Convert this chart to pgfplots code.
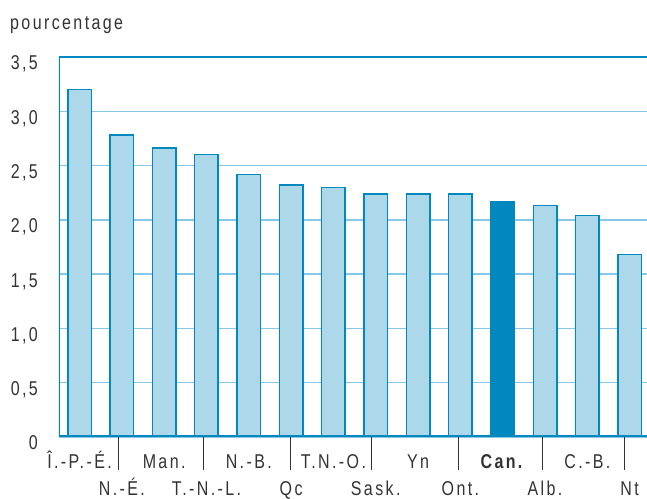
\documentclass[border=0pt]{standalone}
\usepackage{pgfplots}
\pgfplotsset{compat=1.18}
\usepackage{fontspec}
\setmainfont{Liberation Sans}[FakeStretch=0.8, LetterSpace=12]
\definecolor{barblue}{HTML}{0088BF}
\definecolor{barfill}{HTML}{ADD8EA}
\definecolor{gridblue}{HTML}{86C8E5}
\definecolor{txt}{HTML}{333333}

\begin{document}
\begin{tikzpicture}
\begin{axis}[
  scale only axis, width=588pt, height=380pt,
  xmin=-0.485, xmax=13.41, ymin=0, ymax=3.5,
  axis line style={draw=none},
  tick pos=left,
  major tick length=0pt,
  ytick={0,0.5,1,1.5,2,2.5,3,3.5},
  yticklabels={0,{0,5},{1,0},{1,5},{2,0},{2,5},{3,0},{3,5}},
  ymajorgrids, grid style={gridblue, line width=1.5pt},
  tick label style={font=\fontsize{20}{22}\selectfont, text=txt, inner sep=0pt},
  yticklabel style={anchor=base east, xshift=-21pt, yshift=-13pt},
  xtick={0,...,13},
  xticklabels={Î.-P.-É., \raisebox{-27pt}{N.-É.}, Man., \raisebox{-27pt}{T.-N.-L.},
    N.-B., \raisebox{-27pt}{Qc}, T.N.-O., \raisebox{-27pt}{Sask.},
    Yn, \raisebox{-27pt}{Ont.}, \textbf{Can.}, \raisebox{-27pt}{Alb.},
    C.-B., \raisebox{-27pt}{Nt}},
  xticklabel style={anchor=base, yshift=-32pt},
  extra x ticks={0.91,2.94,4.98,6.91,8.95,10.93,12.87},
  extra x tick labels={},
  extra x tick style={major tick length=33pt, tick align=outside,
    tick style={txt, line width=0.9pt}},
  ybar, bar width=23.5pt, bar shift=0pt,
]
% provinces and territories
\addplot[draw=barblue, fill=barfill, line width=1.5pt] coordinates {
  (0,3.20) (1,2.78) (2,2.66) (3,2.60) (4,2.42) (5,2.32) (6,2.30)
  (7,2.24) (8,2.24) (9,2.24) (11,2.13) (12,2.04) (13,1.68)};
% national figure
\addplot[draw=barblue, fill=barblue, line width=1.5pt] coordinates {(10,2.17)};
\draw[barblue, line width=2pt] (rel axis cs:0,0) -- (rel axis cs:0,1) -- (rel axis cs:1,1);
\draw[barblue, line width=3pt] (rel axis cs:0,0) -- (rel axis cs:1,0);
\end{axis}
\node[anchor=base west, font=\fontsize{20}{22}\selectfont, text=txt, inner sep=0pt]
  at ([shift={(-49pt,27pt)}]current axis.north west) {pourcentage};
\pgfresetboundingbox
\path[use as bounding box] ([shift={(-59pt,-62pt)}]current axis.south west)
  rectangle ([shift={(0pt,57pt)}]current axis.north east);
\end{tikzpicture}
\end{document}
